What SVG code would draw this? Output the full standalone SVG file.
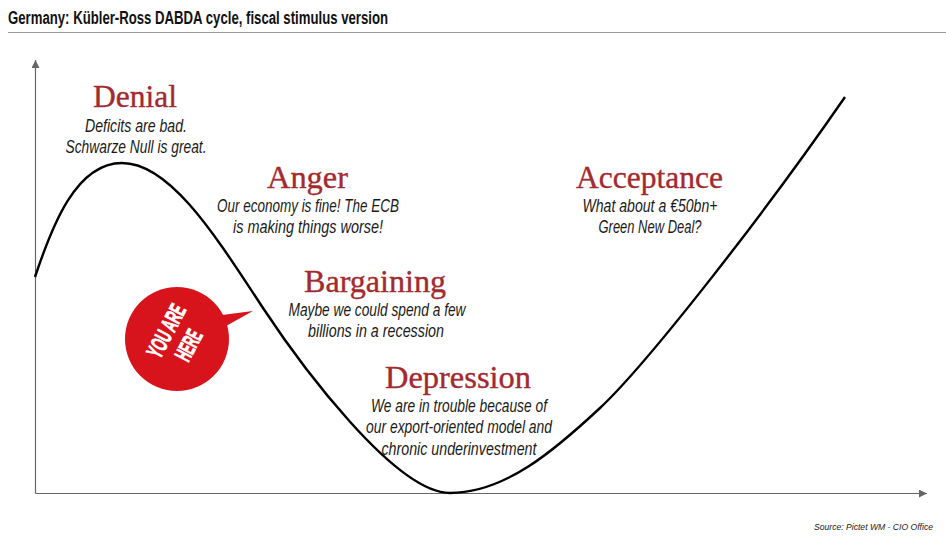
<svg xmlns="http://www.w3.org/2000/svg" width="946" height="541" viewBox="0 0 946 541">
<style>
.h{font-family:"Liberation Serif",serif;font-size:31px;fill:#a32a2f;stroke:#a32a2f;stroke-width:.35px;text-anchor:middle}
.b{font-family:"Liberation Sans Narrow","Liberation Sans",sans-serif;font-style:italic;font-size:18.500px;fill:#1a1a1a;text-anchor:middle}
.ax{stroke:#666;stroke-width:1.200;fill:none}
.y{font-family:"Liberation Sans Narrow","Liberation Sans",sans-serif;font-weight:700;font-size:23.500px;fill:#fff;stroke:#fff;stroke-width:.8px;text-anchor:middle}
</style>
<defs><marker id="a" markerUnits="userSpaceOnUse" markerWidth="9" markerHeight="8" refX="8" refY="4" orient="auto"><path d="M0 0L8 4L0 8Z" fill="#666"/></marker></defs>
<rect width="946" height="541" fill="#fff"/>
<text x="8" y="23.500" font-family="'Liberation Sans Narrow','Liberation Sans',sans-serif" font-weight="700" font-size="18" fill="#111" textLength="380" lengthAdjust="spacingAndGlyphs">Germany: Kübler-Ross DABDA cycle, fiscal stimulus version</text>
<line x1="8" y1="32.500" x2="946" y2="32.500" stroke="#999" stroke-width="1"/>
<g id="connectors">
<path class="ax" d="M35.500 493.500V60" marker-end="url(#a)"/>
<path class="ax" d="M35.500 493.500H927" marker-end="url(#a)"/>
<path id="curve" fill="none" stroke="#000" stroke-width="2.400" d="M35 277C52 226 76 163 122 163C170 163 215 235 263 308C300 364 395 493 450 493C505 493 555 450 600 408C645 366 760 220 845 97"/>
</g>
<g id="denial"><text class="h" x="135" y="107" textLength="84" lengthAdjust="spacingAndGlyphs">Denial</text>
<text class="b" x="136" y="132" textLength="102" lengthAdjust="spacingAndGlyphs">Deficits are bad.</text>
<text class="b" x="136" y="153" textLength="141" lengthAdjust="spacingAndGlyphs">Schwarze Null is great.</text></g>
<g id="anger"><text class="h" x="307.500" y="188" textLength="81" lengthAdjust="spacingAndGlyphs">Anger</text>
<text class="b" x="308" y="212" textLength="182" lengthAdjust="spacingAndGlyphs">Our economy is fine! The ECB</text>
<text class="b" x="308" y="233" textLength="150" lengthAdjust="spacingAndGlyphs">is making things worse!</text></g>
<g id="bargaining"><text class="h" x="375" y="292" textLength="142" lengthAdjust="spacingAndGlyphs">Bargaining</text>
<text class="b" x="377" y="316" textLength="177" lengthAdjust="spacingAndGlyphs">Maybe we could spend a few</text>
<text class="b" x="376" y="337" textLength="136" lengthAdjust="spacingAndGlyphs">billions in a recession</text></g>
<g id="depression"><text class="h" x="458" y="388" textLength="146" lengthAdjust="spacingAndGlyphs">Depression</text>
<text class="b" x="459" y="412" textLength="176" lengthAdjust="spacingAndGlyphs">We are in trouble because of</text>
<text class="b" x="459" y="433" textLength="186" lengthAdjust="spacingAndGlyphs">our export-oriented model and</text>
<text class="b" x="459" y="455" textLength="155" lengthAdjust="spacingAndGlyphs">chronic underinvestment</text></g>
<g id="acceptance"><text class="h" x="649.500" y="188" textLength="147" lengthAdjust="spacingAndGlyphs">Acceptance</text>
<text class="b" x="650" y="212" textLength="135" lengthAdjust="spacingAndGlyphs">What about a €50bn+</text>
<text class="b" x="650" y="233" textLength="103" lengthAdjust="spacingAndGlyphs">Green New Deal?</text></g>
<g id="you-are-here">
<circle cx="177" cy="339" r="52" fill="#d7141c"/>
<path d="M222 315L253 311L226 326Z" fill="#d7141c"/>
<text class="y" transform="translate(165.800 330.800) rotate(-62)" y="8.500" textLength="57" lengthAdjust="spacingAndGlyphs">YOU ARE</text>
<text class="y" transform="translate(188.300 345) rotate(-62)" y="8.500" textLength="32" lengthAdjust="spacingAndGlyphs">HERE</text>
</g>
<text x="814" y="530" font-family="'Liberation Sans Narrow','Liberation Sans',sans-serif" font-style="italic" font-size="9.500" fill="#222" textLength="119" lengthAdjust="spacingAndGlyphs">Source: Pictet WM - CIO Office</text>
</svg>
